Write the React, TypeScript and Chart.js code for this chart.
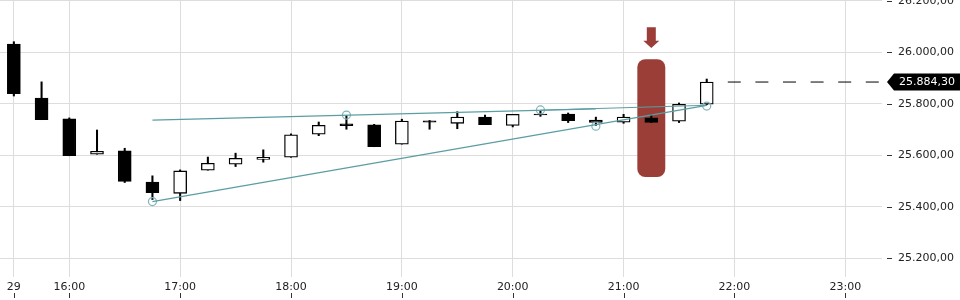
import React, { useEffect, useRef } from "react";
import { Chart, registerables } from "chart.js";

Chart.register(...registerables);

// ---- data ----
const times = [15.5, 15.75, 16, 16.25, 16.5, 16.75, 17, 17.25, 17.5, 17.75, 18, 18.25, 18.5, 18.75, 19, 19.25, 19.5, 19.75, 20, 20.25, 20.5, 20.75, 21, 21.25, 21.5, 21.75];
const opens = [26032, 25822, 25741, 25604, 25617, 25496, 25452, 25542, 25565, 25584, 25592, 25682, 25722, 25718, 25643, 25734, 25724, 25748, 25716, 25760, 25760, 25737, 25728, 25745, 25732, 25798];
const highs = [26041, 25885, 25745, 25698, 25627, 25520, 25543, 25593, 25608, 25621, 25683, 25729, 25754, 25720, 25740, 25735, 25769, 25756, 25759, 25773, 25764, 25748, 25759, 25756, 25803, 25896];
const lows = [25830, 25738, 25598, 25604, 25494, 25428, 25424, 25542, 25556, 25573, 25592, 25676, 25701, 25633, 25643, 25701, 25703, 25719, 25710, 25751, 25727, 25716, 25724, 25727, 25727, 25796];
const closes = [25839, 25738, 25598, 25615, 25498, 25455, 25539, 25569, 25588, 25592, 25679, 25716, 25715, 25633, 25733, 25728, 25748, 25719, 25759, 25757, 25734, 25727, 25748, 25727, 25798, 25884.3];

const xTickValues = [15.5, 16, 17, 18, 19, 20, 21, 22, 23];
const dayLabel = "29";
const yTickValues = [25200, 25400, 25600, 25800, 26000, 26200];

const upperTrend = [{ x: 16.75, y: 25736 }, { x: 20.75, y: 25780 }];
const lowerTrend = [{ x: 16.75, y: 25420 }, { x: 21.75, y: 25794 }];
const connector = [{ x: 20.25, y: 25775 }, { x: 21.75, y: 25794 }];
const pivots = [
  { x: 16.75, y: 25420 },
  { x: 18.5, y: 25756 },
  { x: 20.25, y: 25776 },
  { x: 20.75, y: 25713 },
  { x: 21.75, y: 25791 },
];
const lastPrice = 25884.3;
const lastLineFrom = 21.94;
const signalTime = 21.25;
const signalTop = 25973;
const signalBottom = 25515;

const X_MIN = 15.375;
const X_MAX = 23.331;
const Y_MIN = 25127;
const Y_MAX = 26203;

const TEAL = "#5a9ea3";
const CIRCLE = "#7fb5b9";
const RED = "#9b3e38";
const TEXT = "#222222";
const FONT = "'DejaVu Sans', sans-serif";

function fmt(v: number): string {
  const [i, d] = v.toFixed(2).split(".");
  return i.replace(/\B(?=(\d{3})+(?!\d))/g, ".") + "," + d;
}

const decor = {
  id: "decor",
  beforeDatasetsDraw(chart: any) {
    const { ctx, scales } = chart;
    const x = scales.x, y = scales.y;
    const half = 0.126;
    const x0 = x.getPixelForValue(signalTime - half);
    const x1 = x.getPixelForValue(signalTime + half);
    const y0 = y.getPixelForValue(signalTop);
    const y1 = y.getPixelForValue(signalBottom);
    ctx.save();
    ctx.fillStyle = RED;
    ctx.beginPath();
    (ctx as any).roundRect(x0, y0, x1 - x0, y1 - y0, 8);
    ctx.fill();
    // arrow
    const cx = x.getPixelForValue(signalTime);
    const top = y0 - 32;
    const shaftBottom = y0 - 18.5;
    const tip = y0 - 11.3;
    ctx.beginPath();
    ctx.moveTo(cx - 4.5, top);
    ctx.lineTo(cx + 4.5, top);
    ctx.lineTo(cx + 4.5, shaftBottom);
    ctx.lineTo(cx + 8, shaftBottom);
    ctx.lineTo(cx, tip);
    ctx.lineTo(cx - 8, shaftBottom);
    ctx.lineTo(cx - 4.5, shaftBottom);
    ctx.closePath();
    ctx.fill();
    ctx.restore();
  },
  afterDraw(chart: any) {
    const { ctx, scales, chartArea } = chart;
    const x = scales.x, y = scales.y;
    ctx.save();
    ctx.strokeStyle = "#333";
    ctx.lineWidth = 1;
    // y tick marks
    for (const v of yTickValues) {
      const py = Math.round(y.getPixelForValue(v)) + 0.5;
      ctx.beginPath();
      ctx.moveTo(chartArea.right + 5, py);
      ctx.lineTo(chartArea.right + 10, py);
      ctx.stroke();
    }
    // x tick marks (below labels)
    for (const v of xTickValues) {
      const px = Math.round(x.getPixelForValue(v)) + 0.5;
      ctx.beginPath();
      ctx.moveTo(px, 293);
      ctx.lineTo(px, 298);
      ctx.stroke();
    }
    // last price label
    const py = y.getPixelForValue(lastPrice);
    const left = chartArea.right + 5;
    ctx.fillStyle = "#000";
    ctx.beginPath();
    ctx.moveTo(left, py);
    ctx.lineTo(left + 7, py - 8.5);
    ctx.lineTo(960, py - 8.5);
    ctx.lineTo(960, py + 8.5);
    ctx.lineTo(left + 7, py + 8.5);
    ctx.closePath();
    ctx.fill();
    ctx.fillStyle = "#fff";
    ctx.font = "11px " + FONT;
    ctx.textBaseline = "middle";
    ctx.textAlign = "left";
    ctx.fillText(fmt(lastPrice), left + 12, py + 0.5);
    ctx.restore();
  },
};

export default function App() {
  const ref = useRef<HTMLCanvasElement | null>(null);
  useEffect(() => {
    if (!ref.current) return;
    Chart.defaults.font.family = FONT;
    const bodies = times.map((t, i) => ({ x: t, y: [opens[i], closes[i]] }));
    const wicks = times.map((t, i) => ({ x: t, y: [lows[i], highs[i]] }));
    const bodyColors = times.map((_, i) => (closes[i] < opens[i] ? "#000000" : "#ffffff"));
    const chart = new Chart(ref.current, {
      type: "bar",
      data: {
        datasets: [
          { type: "line", data: upperTrend, borderColor: TEAL, borderWidth: 1.2, pointRadius: 0, order: 0 } as any,
          { type: "line", data: lowerTrend, borderColor: TEAL, borderWidth: 1.2, pointRadius: 0, order: 0 } as any,
          { type: "line", data: connector, borderColor: TEAL, borderWidth: 1, pointRadius: 0, order: 0 } as any,
          {
            type: "line", data: pivots, showLine: false, pointRadius: 4, pointBorderWidth: 1.2,
            pointBorderColor: CIRCLE, pointBackgroundColor: "rgba(0,0,0,0)", order: 0,
          } as any,
          {
            type: "line",
            data: [{ x: lastLineFrom, y: lastPrice }, { x: X_MAX, y: lastPrice }],
            borderColor: "#000", borderWidth: 1, borderDash: [13, 14.6], pointRadius: 0, order: 1,
          } as any,
          {
            type: "bar", data: bodies as any, barThickness: 13, grouped: false,
            backgroundColor: bodyColors, borderColor: "#000", borderWidth: 1.3, borderSkipped: false, order: 2,
          } as any,
          {
            type: "bar", data: wicks as any, barThickness: 1.4, grouped: false,
            backgroundColor: "#000", borderWidth: 0, order: 3,
          } as any,
        ],
      },
      options: {
        responsive: false,
        animation: false,
        events: [],
        layout: { padding: 0, autoPadding: false },
        plugins: { legend: { display: false }, tooltip: { enabled: false } },
        scales: {
          x: {
            type: "linear",
            min: X_MIN,
            max: X_MAX,
            offset: false,
            grid: { color: "#dddddd", drawTicks: false, lineWidth: 1, offset: false },
            border: { display: false },
            ticks: {
              color: TEXT,
              font: { size: 11, family: FONT },
              padding: 4,
              autoSkip: false,
              maxRotation: 0,
              callback: (v: any) => (v === 15.5 ? dayLabel : `${v}:00`),
            },
            afterBuildTicks: (s: any) => {
              s.ticks = xTickValues.map((v) => ({ value: v }));
            },
            afterFit: (s: any) => {
              s.height = 23;
              s.paddingLeft = 0;
              s.paddingRight = 0;
            },
          },
          y: {
            type: "linear",
            position: "right",
            min: Y_MIN,
            max: Y_MAX,
            grid: { color: "#dddddd", drawTicks: false, lineWidth: 1 },
            border: { display: false },
            ticks: {
              color: TEXT,
              font: { size: 11, family: FONT },
              padding: 16,
              callback: (v: any) => fmt(Number(v)),
            },
            afterBuildTicks: (s: any) => {
              s.ticks = yTickValues.map((v) => ({ value: v }));
            },
            afterFit: (s: any) => {
              s.width = 78;
              s.paddingTop = 0;
              s.paddingBottom = 0;
            },
          },
        },
      } as any,
      plugins: [decor],
    });
    return () => chart.destroy();
  }, []);
  return (
    <div style={{ position: "fixed", left: 0, top: 0, width: 960, height: 300, background: "#fff" }}>
      <canvas ref={ref} width={960} height={300} style={{ width: 960, height: 300, display: "block" }} />
    </div>
  );
}
